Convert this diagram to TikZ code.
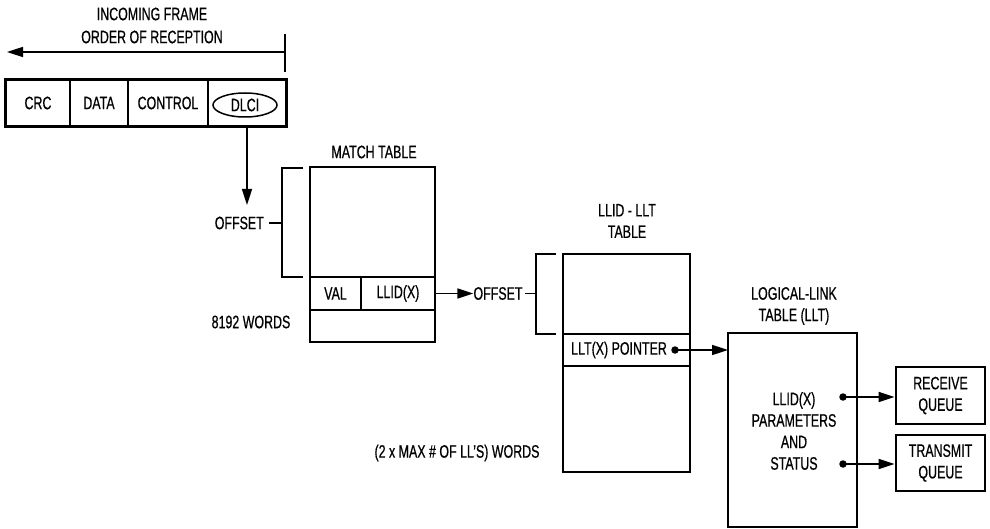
\documentclass[tikz,border=0pt]{standalone}
\usepackage{fontspec}
\setmainfont{Liberation Sans}[FakeStretch=0.69,FakeBold=0.6]
\usetikzlibrary{arrows.meta,shapes.geometric}
\begin{document}
\begin{tikzpicture}[x=1pt,y=-1pt,
  txt/.style={font=\fontsize{18}{21.5}\selectfont,align=center,inner sep=0pt},
  thickbox/.style={draw,line width=2.8pt},
  thinline/.style={line width=1.5pt},
  cell/.style={draw,line width=1.5pt,inner sep=0pt,txt},
  arr/.style={line width=1.6pt,-{Triangle[length=16pt,width=10pt]}},
  dotnode/.style={circle,fill,inner sep=0pt,minimum size=7.5pt}
]
\useasboundingbox (0,0) rectangle (990,529);

% incoming frame header
\node[txt] (incoming) at (152,14) {INCOMING FRAME};
\node[txt] (order) at (152,37) {ORDER OF RECEPTION};
\coordinate (tickT) at (285,34);
\coordinate (tickB) at (285,72);
\coordinate (arrS) at (285,52);
\coordinate (arrE) at (7,52);
\draw[thinline] (tickT) -- (tickB);
\draw[arr] (arrS) -- (arrE);

% frame
\node[cell,minimum width=64pt,minimum height=46pt] (crc) at (38,103) {CRC};
\node[cell,minimum width=58pt,minimum height=46pt] (data) at (99,103) {DATA};
\node[cell,minimum width=80pt,minimum height=46pt] (control) at (168,103) {CONTROL};
\node[cell,minimum width=78pt,minimum height=46pt] (dlcicell) at (247,103) {};
\node[ellipse,draw,line width=1.5pt,minimum width=64pt,minimum height=24pt,txt] (dlci) at (245,105) {DLCI};
\draw[thickbox] (crc.north west) rectangle (dlcicell.south east);

\coordinate (dlciEnd) at (247,205);
\draw[arr] (dlcicell.south) -- (dlciEnd);

% match table
\node[txt] (mtlabel) at (374,152) {MATCH TABLE};
\node[cell,minimum width=51pt,minimum height=33pt] (val) at (335.5,293.5) {VAL};
\node[cell,minimum width=74pt,minimum height=33pt] (llid) at (398,293.5) {LLID(X)};
\node[thickbox,minimum width=125pt,minimum height=175pt,inner sep=0pt] (mt) at (372.5,254.5) {};

% offset bracket 1
\coordinate (b1a) at (303,168);
\coordinate (b1b) at (282,168);
\coordinate (b1c) at (282,277);
\coordinate (b1d) at (303,277);
\coordinate (b1m) at (282,223);
\coordinate (b1t) at (269,223);
\draw[thinline] (b1a) -- (b1b) -- (b1c) -- (b1d);
\draw[thinline] (b1m) -- (b1t);
\node[txt,anchor=east] (offset1) at (264,223) {OFFSET};
\node[txt] (words1) at (251,322) {8192 WORDS};

% arrow to offset 2
\node[txt] (offset2) at (498,293.5) {OFFSET};
\draw[arr] (llid.east) -- (offset2.west);

% offset bracket 2
\coordinate (b2a) at (556,254);
\coordinate (b2b) at (536,254);
\coordinate (b2c) at (536,334);
\coordinate (b2d) at (556,334);
\coordinate (b2m) at (536,293.5);
\draw[thinline] (b2a) -- (b2b) -- (b2c) -- (b2d);
\draw[thinline] (b2m) -- ([xshift=2pt]offset2.east);

% LLID-LLT table
\node[txt] (lltlabel) at (627,221) {LLID - LLT\\TABLE};
\node[cell,minimum width=127pt,minimum height=32pt] (ptr) at (626.5,350) {};
\node[thickbox,minimum width=127pt,minimum height=218pt,inner sep=0pt] (lt) at (626.5,363) {};
\node[txt] (ptrtext) at (619,350) {LLT(X) POINTER};
\node[dotnode] (ptrdot) at (675,350) {};
\node[txt] (words2) at (457,453) {(2 x MAX \# OF LL’S) WORDS};

% logical link table
\node[txt] (llabel) at (794,306) {LOGICAL-LINK\\TABLE (LLT)};
\node[thickbox,minimum width=129pt,minimum height=194pt,inner sep=0pt] (llt) at (792.5,430) {};
\node[txt] (params) at (794,431) {LLID(X)\\PARAMETERS\\AND\\STATUS};
\coordinate (lltin) at (728,350);
\draw[arr] (ptrdot.center) -- (lltin);

\node[dotnode] (rdot) at (843,397) {};
\node[dotnode] (tdot) at (843,464) {};

% queues
\node[thickbox,minimum width=89pt,minimum height=57pt,inner sep=0pt,txt] (rq) at (940.5,395.5) {RECEIVE\\QUEUE};
\node[thickbox,minimum width=89pt,minimum height=56pt,inner sep=0pt,txt] (tq) at (940.5,463) {TRANSMIT\\QUEUE};
\draw[arr] (rdot.center) -- (rdot.center -| rq.west);
\draw[arr] (tdot.center) -- (tdot.center -| tq.west);
\end{tikzpicture}
\end{document}
